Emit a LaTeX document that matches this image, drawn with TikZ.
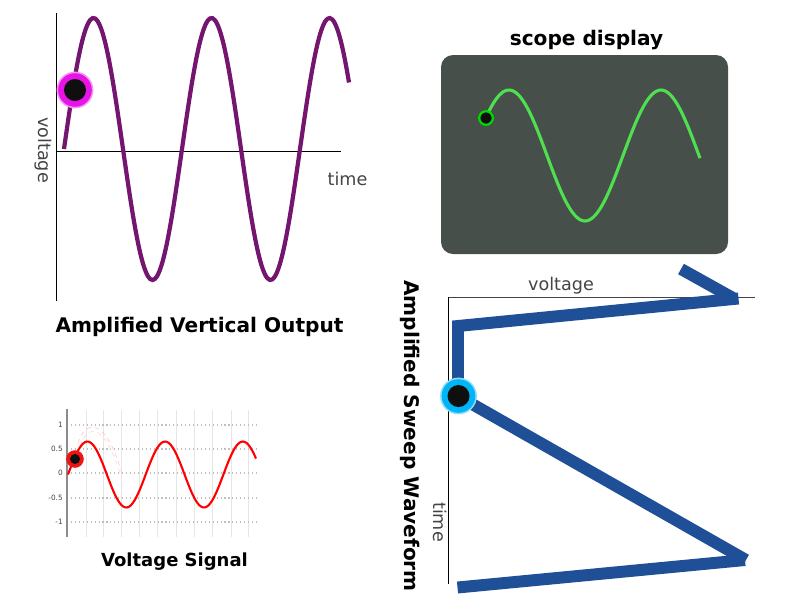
\documentclass[tikz,border=0pt]{standalone}
\usepackage{fontspec}
\setmainfont{DejaVu Sans}
\definecolor{tracepurple}{HTML}{74166F}
\definecolor{scopegrey}{HTML}{474F4A}
\definecolor{scopegreen}{HTML}{4FE04F}
\definecolor{sweepblue}{HTML}{1F4F96}
\definecolor{labelgrey}{HTML}{444444}
\definecolor{gridgrey}{HTML}{E6E6E6}
\definecolor{glowmagenta}{HTML}{E614E6}
\definecolor{glowcyan}{HTML}{00B4F8}
\definecolor{glowred}{HTML}{EE1414}
\tikzset{
    titletext/.style={font=\bfseries\fontsize{14.3}{16}\selectfont, text=black, inner sep=0pt},
    axistext/.style={font=\fontsize{12.5}{14}\selectfont, text=labelgrey, inner sep=0pt},
    ticktext/.style={font=\fontsize{5.2}{6}\selectfont, text=labelgrey, inner sep=0pt},
    dotcore/.style={circle, fill=black!94, inner sep=0pt, minimum size=#1},
    glowrim/.style={circle, fill=#1!45, inner sep=0pt, minimum size=0.92cm},
    glowring/.style={circle, fill=#1, inner sep=0pt, minimum size=0.84cm},
}
\begin{document}
\begin{tikzpicture}[x=0.025cm, y=-0.025cm]
        \useasboundingbox (0,0) rectangle (800,600);

        % Amplified vertical output
        \draw[black, line width=0.6pt] (56.5,13) -- (56.5,301);
        \draw[black, line width=0.6pt] (56.5,151) -- (341,151);
        \draw[tracepurple, line width=3pt] plot[smooth, domain=64:349, samples=120] (\x, {149-131*sin(360/118*(\x-64))});
        \node[glowrim=glowmagenta] (vertrim) at (75,90) {};
        \node[glowring=glowmagenta] (vertglow) at (75,90) {};
        \node[dotcore=0.55cm] (vertdot) at (75,90) {};
        \node[axistext, rotate=-90] (vertvoltage) at (43,150) {voltage};
        \node[axistext] (verttime) at (347.5,178.5) {time};
        \node[titletext] (verttitle) at (199.5,327) {Amplified Vertical Output};

        % Scope display
        \node[titletext] (scopetitle) at (586.5,40) {scope display};
        \fill[scopegrey, rounded corners=0.3cm] (441,55) rectangle (728,254);
        \draw[scopegreen, line width=2.2pt] plot[smooth, domain=486:700, samples=100] (\x, {155.5-65.5*sin(360/152*(\x-471))});
        \node[circle, draw=green!85!black, line width=1.6pt, fill=black!94, inner sep=0pt, minimum size=0.34cm] (scopedot) at (486,118) {};

        % Voltage signal
        \foreach \gridx in {86,103,121,139,157,176,194,212,231,248}
            \draw[gridgrey, line width=0.7pt] (\gridx,410) -- (\gridx,537);
        \foreach \gridy/\ticklabel in {425/1,449/0.5,473/0,498/-0.5,522/-1} {
            \draw[black!25, line width=0.8pt, dotted] (67,\gridy) -- (257,\gridy);
            \node[ticktext, anchor=east] at (63,\gridy) {\ticklabel};
        }
        \draw[black!45, line width=1pt] (67,409) -- (67,537);
        \draw[red!22, line width=0.5pt, dashed] (78,443) .. controls (85,420) and (106,415) .. (123,477);
        \draw[red!15, line width=0.5pt, dashed] (80,446) .. controls (88,425) and (104,420) .. (121,477);
        \draw[red, line width=1.5pt] plot[smooth, domain=68:256, samples=100] (\x, {474.5-33*sin(360/77.7*(\x-68))});
        \node[circle, fill=glowred, inner sep=0pt, minimum size=0.44cm] (signalglow) at (75,459) {};
        \node[dotcore=0.25cm] (signaldot) at (75,459) {};
        \node[titletext, font=\bfseries\fontsize{12.8}{15}\selectfont] (signaltitle) at (174.5,561.5) {Voltage Signal};

        % Amplified sweep waveform
        \draw[labelgrey, line width=0.7pt] (448.5,297) -- (755,297);
        \draw[black, line width=0.6pt] (448.5,297) -- (448.5,584);
        \draw[sweepblue, line width=8.5pt] (681,269) -- (733,298);
        \draw[sweepblue, line width=8.5pt, line join=miter] (738.5,298.5) -- (458,326) -- (458,396);
        \draw[sweepblue, line width=8.5pt] (458,396) -- (746,560);
        \draw[sweepblue, line width=8.5pt] (745,560) -- (457.5,587.5);
        \node[glowrim=glowcyan] (sweeprim) at (458.5,396) {};
        \node[glowring=glowcyan] (sweepglow) at (458.5,396) {};
        \node[dotcore=0.55cm] (sweepdot) at (458.5,396) {};
        \node[axistext] (sweepvoltage) at (561,285.5) {voltage};
        \node[axistext, rotate=-90] (sweeptime) at (440,522) {time};
        \node[titletext, rotate=-90] (sweeptitle) at (410,436) {Amplified Sweep Waveform};
    \end{tikzpicture}
\end{document}
